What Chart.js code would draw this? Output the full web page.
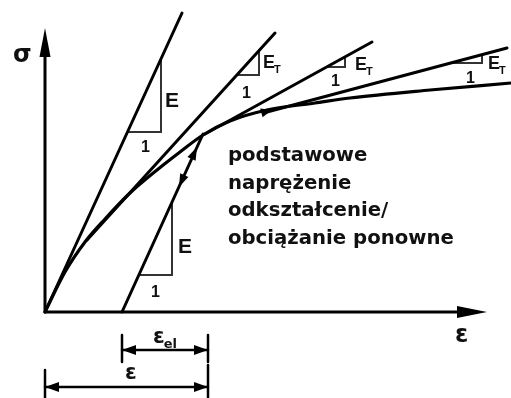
<!DOCTYPE html>
<html>
<head>
<meta charset="utf-8">
<script src="https://cdn.jsdelivr.net/npm/chart.js@4/dist/chart.umd.min.js"></script>
<style>
html,body{margin:0;padding:0;background:#fff;}
#wrap{width:511px;height:398px;position:relative;}
</style>
</head>
<body>
<div id="wrap"><canvas id="c"></canvas></div>
<script>
// diagram units: strain to the right, stress up, origin at the axis corner
const curveEps = [0, 20, 40, 60, 85, 112, 135, 158, 185, 222, 270, 305, 385, 466];
const curveSig = [0, 40, 70, 93, 119, 142, 160, 177, 191, 202, 209, 214, 222, 229];

const modulusLine = [[0, 0], [137, 299]];
const tangent1 = [[42, 72], [230, 279]];
const tangent2 = [[160, 178], [327, 270]];
const tangent3 = [[222, 200], [462, 264]];
const reloadLine = [[77, 0], [158, 178]];

const sigmaAxis = [[0, 0], [0, 270]];
const epsAxis = [[0, 0], [428, 0]];

const slopeE = [[83, 180], [116, 180], [116, 253]];
const slopeT1 = [[192, 237], [214, 237], [214, 261]];
const slopeT2 = [[282, 245], [300, 245], [300, 255]];
const slopeT3 = [[405, 249], [437, 249], [437, 257]];
const slopeReload = [[94, 37], [127, 37], [127, 110]];

const dimElastic = [[77, -38], [163, -38]];
const dimTotal = [[0, -75], [163, -75]];
const dimTicks = [
  [[77, -23], [77, -50]],
  [[163, -23], [163, -50]],
  [[0, -58], [0, -86]],
  [[163, -53], [163, -86]],
];

// arrowheads: direction from -> to, tip at "to"
const arrows = [
  { from: [0, 0], to: [0, 284], len: 29, half: 5.5 },
  { from: [0, 0], to: [442, 0], len: 30, half: 6 },
  { from: [205, 196], to: [227, 202], len: 11, half: 4.5 },
  { from: [140, 139], to: [152, 165], len: 13, half: 4.5 },
  { from: [146, 152], to: [134, 125], len: 13, half: 4.5 },
  { from: [110, -38], to: [77, -38], len: 14, half: 5 },
  { from: [130, -38], to: [163, -38], len: 14, half: 5 },
  { from: [80, -75], to: [0, -75], len: 14, half: 5 },
  { from: [80, -75], to: [163, -75], len: 14, half: 5 },
];

const symFont = 'bold 24px "DejaVu Sans"';
const eFont = 'bold 21px "Liberation Sans"';
const etFont = 'bold 18px "Liberation Sans"';
const oneFont = 'bold 16px "Liberation Sans"';
const labels = [
  { text: "σ", x: -32, y: 250, font: symFont },
  { text: "ε", x: 410, y: -30, font: symFont },
  { text: "E", x: 120, y: 205, font: eFont },
  { text: "1", x: 96, y: 160, font: oneFont },
  { text: "E", sub: "T", x: 218, y: 244, font: etFont },
  { text: "1", x: 197, y: 214, font: oneFont },
  { text: "E", sub: "T", x: 310, y: 242, font: etFont },
  { text: "1", x: 286, y: 226, font: oneFont },
  { text: "E", sub: "T", x: 443, y: 243, font: etFont },
  { text: "1", x: 421, y: 229, font: oneFont },
  { text: "E", x: 133, y: 59, font: eFont },
  { text: "1", x: 106, y: 15, font: oneFont },
  { text: "ε", sub: "el", x: 108, y: -31, font: 'bold 21px "DejaVu Sans"' },
  { text: "ε", x: 80, y: -67, font: 'bold 21px "DejaVu Sans"' },
];

const noteLines = ["podstawowe", "naprężenie", "odkształcenie/", "obciążanie ponowne"];
const noteX = 183;
const noteY = [151, 123, 96, 68];

const pts = (arr) => arr.map(([x, y]) => ({ x, y }));

function seg(data, width, color) {
  return {
    data: pts(data),
    showLine: true,
    borderColor: color || "#000",
    borderWidth: width,
    pointRadius: 0,
    tension: 0,
    borderCapStyle: "round",
    borderJoinStyle: "miter",
  };
}

const datasets = [
  {
    data: curveEps.map((e, i) => ({ x: e, y: curveSig[i] })),
    showLine: true,
    borderColor: "#000",
    borderWidth: 3.2,
    pointRadius: 0,
    cubicInterpolationMode: "monotone",
  },
  seg(modulusLine, 3),
  seg(tangent1, 3),
  seg(tangent2, 3),
  seg(tangent3, 3),
  seg(reloadLine, 3),
  seg(sigmaAxis, 3),
  seg(epsAxis, 3),
  seg(slopeE, 2, "#333"),
  seg(slopeT1, 2, "#333"),
  seg(slopeT2, 2, "#333"),
  seg(slopeT3, 2, "#333"),
  seg(slopeReload, 2, "#333"),
  seg(dimElastic, 2.5),
  seg(dimTotal, 2.5),
  ...dimTicks.map((t) => seg(t, 2.5)),
];

const annotate = {
  id: "annotate",
  afterDatasetsDraw(chart) {
    const { ctx, scales } = chart;
    const px = (p) => [scales.x.getPixelForValue(p[0]), scales.y.getPixelForValue(p[1])];
    ctx.save();
    ctx.fillStyle = "#000";
    arrows.forEach((a) => {
      const [x0, y0] = px(a.from);
      const [x1, y1] = px(a.to);
      const ang = Math.atan2(y1 - y0, x1 - x0);
      ctx.save();
      ctx.translate(x1, y1);
      ctx.rotate(ang);
      ctx.beginPath();
      ctx.moveTo(0, 0);
      ctx.lineTo(-a.len, -a.half);
      ctx.lineTo(-a.len, a.half);
      ctx.closePath();
      ctx.fill();
      ctx.restore();
    });
    ctx.fillStyle = "#111";
    ctx.textAlign = "left";
    ctx.textBaseline = "alphabetic";
    labels.forEach((l) => {
      const [x, y] = px([l.x, l.y]);
      ctx.font = l.font;
      ctx.fillText(l.text, x, y);
      if (l.sub) {
        const w = ctx.measureText(l.text).width;
        const size = parseFloat(l.font.match(/(\d+(\.\d+)?)px/)[1]);
        ctx.font = l.font.replace(/\d+(\.\d+)?px/, Math.round(size * 0.6) + "px");
        ctx.fillText(l.sub, x + w - 1, y + size * 0.25);
      }
    });
    ctx.font = 'bold 19.7px "DejaVu Sans"';
    noteLines.forEach((t, i) => {
      const [x, y] = px([noteX, noteY[i]]);
      ctx.fillText(t, x, y);
    });
    ctx.restore();
  },
};

new Chart(document.getElementById("c"), {
  type: "scatter",
  data: { datasets },
  options: {
    responsive: true,
    maintainAspectRatio: false,
    animation: false,
    layout: { padding: 0 },
    plugins: { legend: { display: false }, tooltip: { enabled: false } },
    scales: {
      x: { type: "linear", min: -45, max: 466, display: false },
      y: { type: "linear", min: -86, max: 312, display: false },
    },
    elements: { line: { fill: false } },
  },
  plugins: [annotate],
});
</script>
</body>
</html>
